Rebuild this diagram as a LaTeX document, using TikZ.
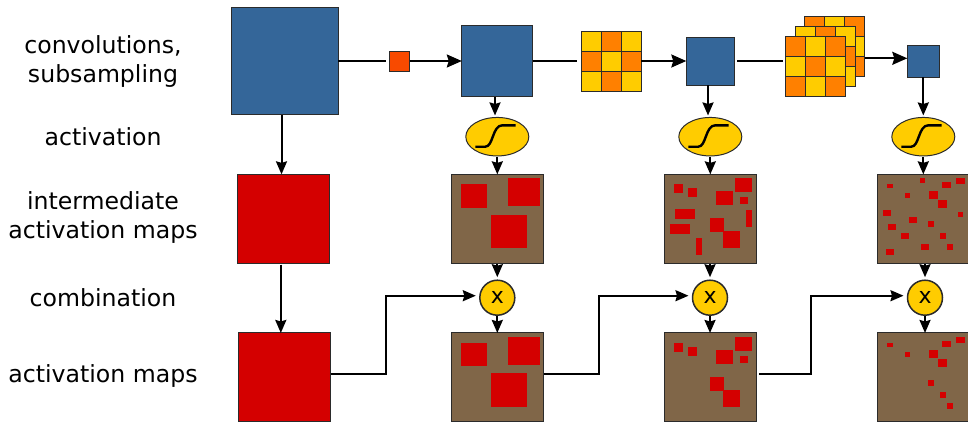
\documentclass[tikz,border=0pt]{standalone}
\usepackage{fontspec}
\setmainfont{DejaVu Sans}
\usetikzlibrary{arrows.meta,calc,shapes.geometric}

\definecolor{convblue}{HTML}{346699}
\definecolor{mapred}{HTML}{D40000}
\definecolor{mapbrown}{HTML}{806648}
\definecolor{kernelyellow}{HTML}{FFCC00}
\definecolor{kernelorange}{HTML}{FF8000}
\definecolor{pooled}{HTML}{F84A00}
\definecolor{edgegrey}{HTML}{2B2B2B}

% red patches of the maps, in thirds of a pixel from the top left corner
\def\patchesA{29/30/107/100,170/12/266/96,119/121/227/222}
\def\keptB{29/30/56/57,71/42/98/69,155/51/206/93,212/12/263/54,227/69/251/90,137/132/179/174,176/171/227/222}
\def\droppedB{32/105/92/135,245/108/263/159,17/150/77/180,95/192/113/243}
\def\keptC{29/30/47/42,194/24/221/42,236/12/263/30,83/57/98/72,155/51/182/75,182/78/209/102,152/141/170/159,188/177/206/195,209/210/227/228}
\def\droppedC{128/12/143/27,17/108/41/126,242/114/257/129,95/129/119/147,32/150/56/168,71/177/95/195,131/210/155/228,26/225/50/243}

\begin{document}
\begin{tikzpicture}[
        x=1pt, y=-1pt,
        box/.style={draw=edgegrey, line width=1pt, inner sep=0pt, outer sep=0pt},
        conv/.style={box, fill=convblue},
        redmap/.style={box, fill=mapred, minimum width=92.3pt, minimum height=88.7pt},
        brownmap/.style={box, fill=mapbrown, minimum width=92.3pt, minimum height=88.7pt},
        act/.style={box, ellipse, fill=kernelyellow, minimum width=63pt, minimum height=38.5pt},
        comb/.style={box, circle, fill=kernelyellow, line width=1.5pt, minimum size=35pt,
            font=\fontsize{22}{22}\selectfont},
        cell/.style={draw=edgegrey, line width=0.9pt},
        label/.style={align=center, font=\fontsize{23.6}{29}\selectfont},
        line/.style={black, line width=2pt},
        flow/.style={line, -{Stealth[length=13pt,width=11pt,inset=1.5pt]}},
        flowbig/.style={line, -{Stealth[length=15pt,width=13pt,inset=2pt]}},
        sigmoid/.style={black, line width=2.4pt},
        patch/.style={fill=mapred},
    ]
    \useasboundingbox (0,0) rectangle (968,421);

    % labels
    \node[label] at (103,61) (lconv) {convolutions,\\subsampling};
    \node[label] at (103,137) (lact) {activation};
    \node[label] at (103,217) (linter) {intermediate\\activation maps};
    \node[label] at (103,298) (lcomb) {combination};
    \node[label] at (103,376) (lmaps) {activation maps};

    % first row
    \node[conv,minimum size=107pt] at (284.5,61) (conv0) {};
    \node[box,fill=pooled,minimum size=20pt] at (399.5,61) (pool) {};
    \node[conv,minimum size=71pt] at (497.3,61) (conv1) {};
    \node[conv,minimum size=48pt] at (710.3,61) (conv2) {};
    \node[conv,minimum size=32pt] at (923.3,61) (conv3) {};

    % filters, back to front
    \foreach \name/\cx/\cy/\even/\odd in {
            kernel1/611/61/kernelyellow/kernelorange,
            kernel4/834.5/46.3/kernelorange/kernelyellow,
            kernel3/825.5/56.3/kernelyellow/kernelorange,
            kernel2/815/66.3/kernelorange/kernelyellow} {
        \node[minimum size=60pt,inner sep=0pt,outer sep=0pt] at (\cx,\cy) (\name) {};
        \foreach \i in {-1,0,1}
            \foreach \j in {-1,0,1} {
                \pgfmathtruncatemacro\parity{mod(\i+\j+2,2)}
                \ifnum\parity=0 \def\tint{\even}\else \def\tint{\odd}\fi
                \draw[cell,fill=\tint] (\cx+\i*20-10,\cy+\j*20-10) rectangle ++(20,20);
            }
    }

    % activations
    \foreach \n/\cx in {1/497.3,2/710.3,3/923.3} {
        \node[act] at (\cx,136.7) (act\n) {};
        \begin{scope}[shift={(act\n)}]
            \draw[sigmoid] (-22,10) -- (-12,10)
                .. controls (-4,10) and (-5,-11.4) .. (5,-11.4) -- (18.4,-11.4);
        \end{scope}
    }

    % maps
    \node[redmap] at (283.8,218.7) (inter0) {};
    \node[redmap] at (284.5,377.3) (maps0) {};
    \node[brownmap] at (497.5,218.7) (inter1) {};
    \node[brownmap] at (497.5,377.3) (maps1) {};
    \node[brownmap] at (710.5,218.7) (inter2) {};
    \node[brownmap] at (710.5,377.3) (maps2) {};
    \node[brownmap] at (923.5,218.7) (inter3) {};
    \node[brownmap] at (923.5,377.3) (maps3) {};

    % patches
    \foreach \target/\patches in {inter1/\patchesA,maps1/\patchesA,inter2/\keptB,inter2/\droppedB,
            maps2/\keptB,inter3/\keptC,inter3/\droppedC,maps3/\keptC} {
        \edef\patchlist{\patches}
        \begin{scope}[shift={(\target.north west)},x=0.3333pt,y=-0.3333pt]
            \foreach \xa/\ya/\xb/\yb in \patchlist
                \fill[patch] (\xa,\ya) rectangle (\xb,\yb);
        \end{scope}
    }

    % combinations
    \node[comb] at (497.3,297.7) (comb1) {x};
    \node[comb] at (710,297.7) (comb2) {x};
    \node[comb] at (925,297.7) (comb3) {x};

    % first row connectors
    \draw[line,shorten >=4pt] (conv0.east) -- (pool.west);
    \draw[flowbig] (pool.east) -- (conv1.west);
    \draw[line,shorten >=4pt] (conv1.east) -- (kernel1.west);
    \draw[flowbig] (kernel1.east) -- (conv2.west);
    \draw[line,shorten <=3pt,shorten >=2pt] (conv2.east) -- (conv2.east -| kernel2.west);
    \draw[flowbig] ([yshift=-12pt]kernel4.east) -- ([yshift=2.7pt]conv3.west);

    % downwards
    \draw[flow] ([xshift=-3pt]conv0.south) -- ([xshift=-3pt]conv0.south |- inter0.north);
    \draw[flow,shorten <=1.5pt] ([xshift=-3pt]inter0.south) -- ([xshift=-3pt]inter0.south |- maps0.north);
    \draw[flow,shorten >=2pt] ([xshift=-2.3pt]conv1.south) -- ([xshift=-2.3pt]act1.north);
    \draw[flow,shorten >=2pt] ([xshift=-2.3pt]conv2.south) -- ([xshift=-2.3pt]act2.north);
    \draw[flow,shorten >=2pt] (conv3.south) -- (act3.north);
    \foreach \n in {1,2,3} {
        \draw[flow,shorten <=1pt] (act\n.south) -- (act\n.south |- inter\n.north);
        \draw[flow,shorten <=1pt,shorten >=3pt] (comb\n.north |- inter\n.south) -- (comb\n.north);
        \draw[flow,shorten <=1pt] (comb\n.south) -- (comb\n.south |- maps\n.north);
    }

    % skip connections
    \draw[flow,shorten >=4pt] ([yshift=3.3pt]maps0.east) -- ++(55.3,0) |- ([yshift=2pt]comb1.west);
    \draw[flow,shorten >=4pt] ([yshift=3.3pt]maps1.east) -- ++(55,0) |- ([yshift=2pt]comb2.west);
    \draw[flow,shorten <=2.5pt,shorten >=4pt] ([yshift=3.3pt]maps2.east) -- ++(54.5,0) |- ([yshift=2pt]comb3.west);
\end{tikzpicture}
\end{document}
